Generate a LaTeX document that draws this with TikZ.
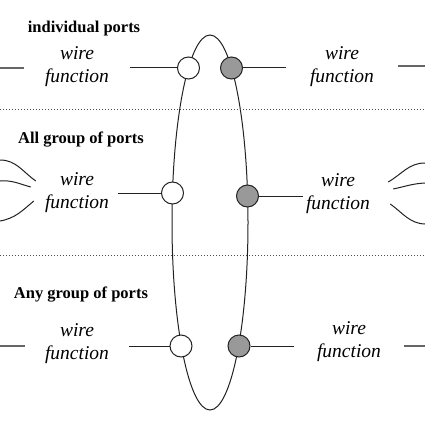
\documentclass[tikz,border=0pt]{standalone}
\usepackage{fontspec}
\setmainfont{Liberation Serif}
\usetikzlibrary{shapes.geometric,positioning}
\definecolor{port}{HTML}{999999}
\definecolor{ln}{HTML}{222222}

\begin{document}
\begin{tikzpicture}[x=1pt,y=-1pt,
  hdr/.style={font=\fontsize{16.5}{18}\selectfont\bfseries,inner sep=0pt},
  fn/.style={font=\fontsize{19.5}{23}\selectfont\itshape,align=center,inner sep=0pt},
  inport/.style={circle,draw=ln,line width=1pt,fill=white,minimum size=22pt,inner sep=0pt},
  outport/.style={circle,draw=ln,line width=1pt,fill=port,minimum size=22pt,inner sep=0pt},
  wire/.style={draw=ln,line width=1pt},
  stub/.style={draw=black!60,line width=1.2pt},
  sep/.style={draw=black!70,dotted,line width=1pt}]
  \useasboundingbox (0,0) rectangle (425,425);
  % the ring of ports
  \node[ellipse,draw=ln,line width=1pt,minimum width=76pt,minimum height=375pt,inner sep=0pt] (ring) at (210,222.5) {};
  % headers
  \node[hdr] (h1) at (84,29) {individual ports};
  \node[hdr] (h2) at (81,140) {All group of ports};
  \node[hdr] (h3) at (81,295) {Any group of ports};
  % ports on the ring
  \node[inport] (pL1) at (188.5,68) {};
  \node[outport] (pR1) at (231.5,68) {};
  \node[inport] (pL2) at (172.5,193) {};
  \node[outport] (pR2) at (247.5,196) {};
  \node[inport] (pL3) at (181,346) {};
  \node[outport] (pR3) at (239,346) {};
  % wire functions
  \node[fn,minimum width=106pt] (fL1) at (77,67) {wire\\function};
  \node[fn,minimum width=112pt] (fR1) at (342,67) {wire\\function};
  \node[fn,minimum width=82pt] (fL2) at (77,193) {wire\\function};
  \node[fn,minimum width=70pt] (fR2) at (338,194) {wire\\function};
  \node[fn,minimum width=104pt] (fL3) at (77,344) {wire\\function};
  \node[fn,minimum width=110pt] (fR3) at (349,342) {wire\\function};
  % free ends at the border
  \coordinate (eL1) at (0,68);
  \coordinate (eR1) at (425,66);
  \coordinate (eL3) at (0,346);
  \coordinate (eR3) at (425,346);
  \coordinate (sL) at (0,110);
  \coordinate (sR) at (425,110);
  \coordinate (tL) at (0,255);
  \coordinate (tR) at (425,255);
  % group wires
  \coordinate (gL1) at (0,160);
  \coordinate (gL2) at (0,181);
  \coordinate (gL3) at (0,221);
  \coordinate (gR1) at (425,163);
  \coordinate (gR2) at (425,183);
  \coordinate (gR3) at (425,224);
  \coordinate (kL1) at ([shift={(0,-12)}]fL2.west);
  \coordinate (kL2) at ([shift={(-5,-6)}]fL2.west);
  \coordinate (kL3) at ([shift={(-2,8)}]fL2.west);
  \coordinate (kR1) at ([shift={(15,-12)}]fR2.east);
  \coordinate (kR2) at ([shift={(20,-5)}]fR2.east);
  \coordinate (kR3) at ([shift={(17,10)}]fR2.east);
  % separators
  \draw[sep] (sL) -- (sR);
  \draw[sep] (tL) -- (tR);
  % connections
  \draw[wire] (pL1) -- (fL1.east |- pL1); \draw[wire] (pR1) -- (fR1.west |- pR1);
  \draw[wire] (pL2) -- (fL2.east |- pL2); \draw[wire] (pR2) -- (fR2.west |- pR2);
  \draw[wire] (pL3) -- (fL3.east |- pL3); \draw[wire] (pR3) -- (fR3.west |- pR3);
  \draw[stub] (eL1) -- (fL1.west |- eL1); \draw[stub] (fR1.east |- eR1) -- (eR1);
  \draw[stub] (eL3) -- (fL3.west |- eL3); \draw[stub] (fR3.east |- eR3) -- (eR3);
  \draw[wire] (gL1) to[out=0,in=145] (kL1);
  \draw[wire] (gL2) to[out=5,in=165] (kL2);
  \draw[wire] (gL3) to[out=10,in=-140] (kL3);
  \draw[wire] (kR1) to[out=30,in=180] (gR1);
  \draw[wire] (kR2) to[out=12,in=183] (gR2);
  \draw[wire] (kR3) to[out=-35,in=178] (gR3);
\end{tikzpicture}
\end{document}
